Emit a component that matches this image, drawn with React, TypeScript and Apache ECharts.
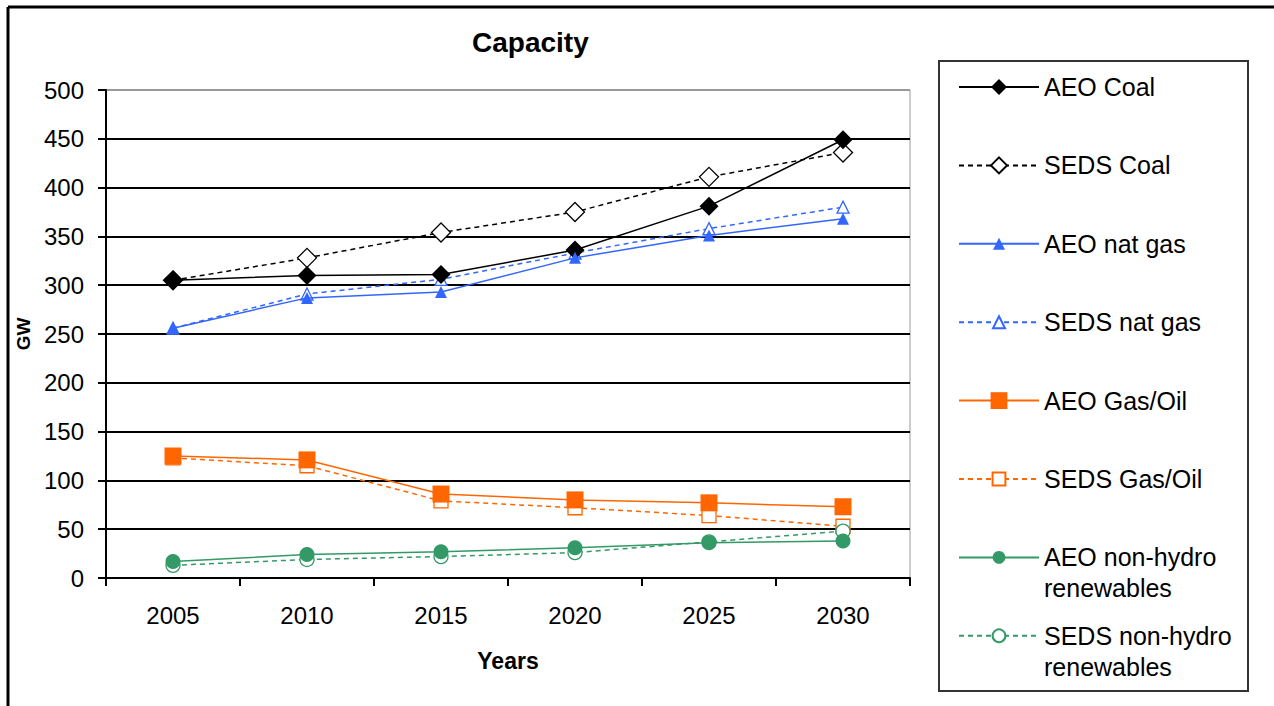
import React, { useEffect, useRef } from "react";
import * as echarts from "echarts";

const years = ["2005", "2010", "2015", "2020", "2025", "2030"];
const yTicks = [0, 50, 100, 150, 200, 250, 300, 350, 400, 450, 500];

const aeoCoal = [305, 310, 311, 336, 381, 449];
const sedsCoal = [305, 328, 354, 375, 411, 436];
const aeoNatGas = [256, 287, 293, 328, 351, 368];
const sedsNatGas = [256, 291, 306, 333, 358, 380];
const aeoGasOil = [125, 121, 86, 80, 77, 73];
const sedsGasOil = [123, 115, 79, 72, 64, 53];
const aeoRenew = [17, 24, 27, 31, 36, 38];
const sedsRenew = [13, 19, 22, 26, 37, 48];

const seriesNames = [
  "AEO Coal",
  "SEDS Coal",
  "AEO nat gas",
  "SEDS nat gas",
  "AEO Gas/Oil",
  "SEDS Gas/Oil",
  "AEO non-hydro renewables",
  "SEDS non-hydro renewables",
];
const legendLabels = [
  "AEO Coal",
  "SEDS Coal",
  "AEO nat gas",
  "SEDS nat gas",
  "AEO Gas/Oil",
  "SEDS Gas/Oil",
  "AEO non-hydro\nrenewables",
  "SEDS non-hydro\nrenewables",
];

const FONT = "'Liberation Sans', Arial, sans-serif";
const BLACK = "#000000";
const BLUE = "#3366FF";
const ORANGE = "#FF6600";
const GREEN = "#339966";

export default function App() {
  const ref = useRef<HTMLDivElement>(null);

  useEffect(() => {
    if (!ref.current) return;
    const chart = echarts.init(ref.current, undefined, { renderer: "svg" });

    const specs = [
      { data: aeoCoal, color: BLACK, dashed: false, symbol: "diamond", size: 19, hollow: false, legendH: 20 },
      { data: sedsCoal, color: BLACK, dashed: true, symbol: "diamond", size: 19, hollow: true, legendH: 20 },
      { data: aeoNatGas, color: BLUE, dashed: false, symbol: "triangle", size: 12, hollow: false, legendH: 15 },
      { data: sedsNatGas, color: BLUE, dashed: true, symbol: "triangle", size: 12, hollow: true, legendH: 15 },
      { data: aeoGasOil, color: ORANGE, dashed: false, symbol: "rect", size: 17, hollow: false, legendH: 21 },
      { data: sedsGasOil, color: ORANGE, dashed: true, symbol: "rect", size: 14, hollow: true, legendH: 16 },
      { data: aeoRenew, color: GREEN, dashed: false, symbol: "circle", size: 15, hollow: false, legendH: 16 },
      { data: sedsRenew, color: GREEN, dashed: true, symbol: "circle", size: 14, hollow: true, legendH: 16 },
    ];

    const series = specs.map((s, i) => ({
      name: seriesNames[i],
      type: "line",
      data: s.data,
      symbol: s.symbol,
      symbolSize: s.size,
      z: s.hollow ? 2 : 3,
      lineStyle: {
        color: s.color,
        width: 1.5,
        type: s.dashed ? [5, 4] : "solid",
      },
      itemStyle: s.hollow
        ? { color: "#ffffff", borderColor: s.color, borderWidth: 1.3 }
        : { color: s.color, borderColor: s.color, borderWidth: 0 },
      emphasis: { disabled: true },
    }));

    const iconYs = [87, 165.4, 243.8, 322.2, 400.6, 479, 557.4, 635.8];
    const legends = seriesNames.map((name, i) => {
      const twoLine = legendLabels[i].indexOf("\n") >= 0;
      return {
        data: [name],
        orient: "vertical",
        left: 958,
        top: twoLine ? iconYs[i] - 46.5 : iconYs[i] - 15.5,
        padding: 0,
        itemWidth: 80,
        itemHeight: specs[i].legendH,
        selectedMode: false,
        formatter: () => (twoLine ? "\n" + legendLabels[i] : legendLabels[i]),
        textStyle: {
          fontFamily: FONT,
          fontSize: 25,
          color: "#000",
          lineHeight: 31,
        },
      };
    });

    const splitColors = yTicks.map((v) => (v === 500 ? "#999999" : "#000000"));

    chart.setOption({
      animation: false,
      backgroundColor: "#ffffff",
      title: {
        text: "Capacity",
        left: 472,
        top: 28,
        padding: 0,
        textStyle: { fontFamily: FONT, fontSize: 28, fontWeight: "bold", color: "#000" },
      },
      legend: legends,
      grid: {
        left: 106,
        right: 364,
        top: 90,
        bottom: 128,
        show: true,
        borderColor: "#999999",
        borderWidth: 1,
        backgroundColor: "transparent",
      },
      xAxis: {
        type: "category",
        data: years,
        boundaryGap: true,
        name: "Years",
        nameLocation: "middle",
        nameGap: 71,
        nameTextStyle: { fontFamily: FONT, fontSize: 23, fontWeight: "bold", color: "#000" },
        axisLine: { lineStyle: { color: "#000", width: 2 } },
        axisTick: { show: true, length: 8, lineStyle: { color: "#000", width: 2 } },
        axisLabel: { fontFamily: FONT, fontSize: 24, color: "#000", margin: 25, interval: 0 },
        splitLine: { show: false },
      },
      yAxis: {
        type: "value",
        min: 0,
        max: 500,
        interval: 50,
        name: "GW",
        nameLocation: "middle",
        nameGap: 66,
        nameRotate: 90,
        nameTextStyle: { fontFamily: FONT, fontSize: 19, fontWeight: "bold", color: "#000" },
        axisLine: { show: true, lineStyle: { color: "#000", width: 2 } },
        axisTick: { show: true, length: 8, lineStyle: { color: "#000", width: 2 } },
        axisLabel: { fontFamily: FONT, fontSize: 24, color: "#000", margin: 22 },
        splitLine: { show: true, lineStyle: { color: splitColors, width: 2 } },
      },
      graphic: [
        {
          type: "line",
          shape: { x1: 8, y1: 7, x2: 1274, y2: 7 },
          style: { stroke: "#000", lineWidth: 3 },
          silent: true,
        },
        {
          type: "line",
          shape: { x1: 8, y1: 7, x2: 8, y2: 706 },
          style: { stroke: "#000", lineWidth: 3 },
          silent: true,
        },
        {
          type: "rect",
          shape: { x: 939, y: 61, width: 309, height: 630 },
          style: { fill: "none", stroke: "#333", lineWidth: 2 },
          silent: true,
          z: -1,
        },
      ],
      series,
    });

    return () => {
      chart.dispose();
    };
  }, []);

  return (
    <div
      style={{ position: "fixed", left: 0, top: 0, width: 1274, height: 706, background: "#fff" }}
    >
      <div ref={ref} style={{ width: 1274, height: 706 }} />
    </div>
  );
}
